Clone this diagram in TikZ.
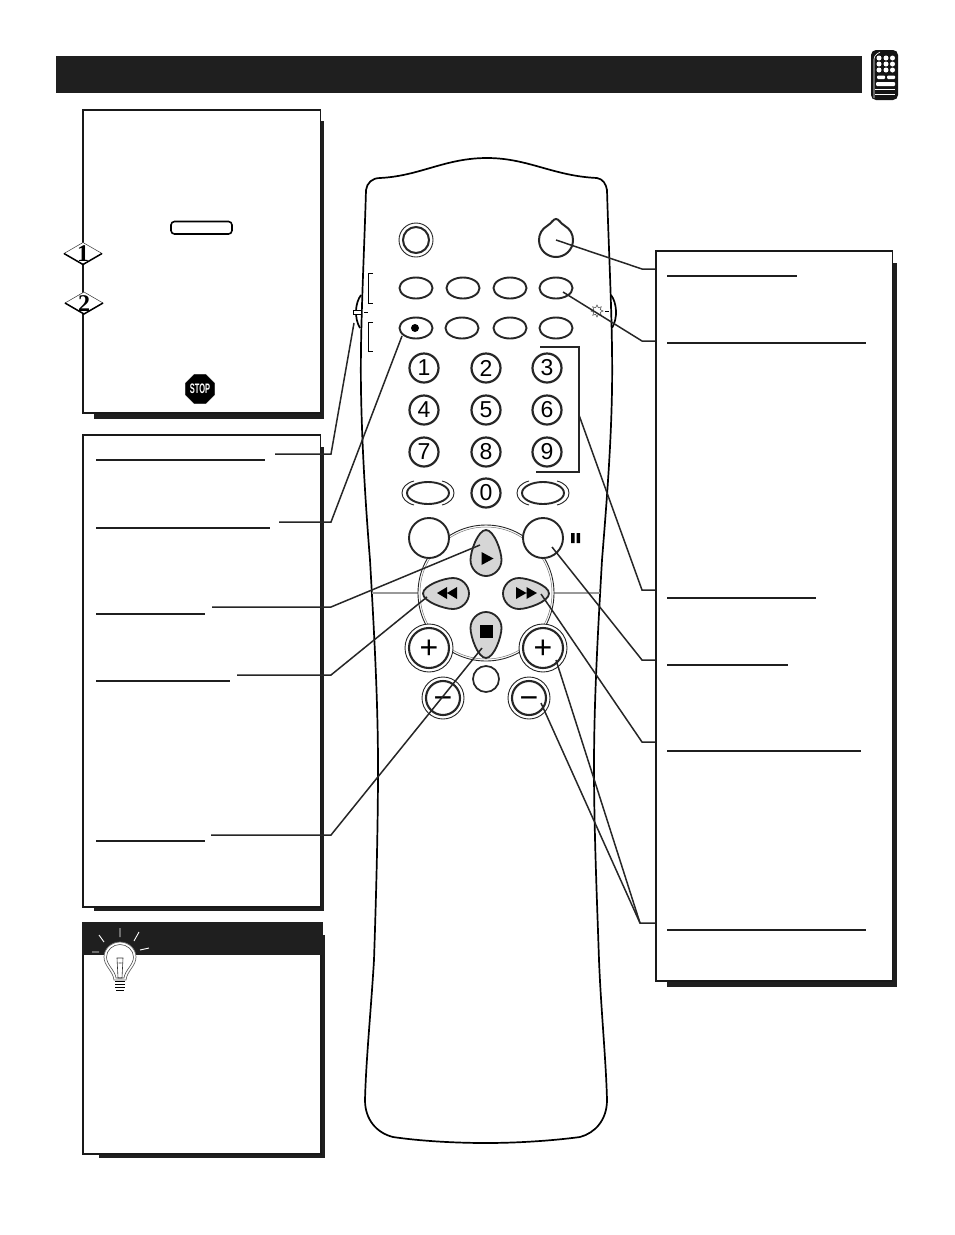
\documentclass[tikz,border=0pt]{standalone}
\usepackage{fontspec}
\setmainfont{Liberation Sans}
\newfontfamily\stepfont{Liberation Serif}
\usetikzlibrary{shapes.geometric}

\begin{document}
\begin{tikzpicture}[
		x=1pt,y=-1pt,
		every node/.style={inner sep=0pt,outer sep=0pt},
		infobox/.style={draw=black!90,line width=1.6pt,fill=white},
		boxshadow/.style={fill=black!88},
		underline/.style={line width=1.7pt,black!88},
		callout/.style={line width=1.5pt,black!85},
		body/.style={line width=1.7pt},
		thinring/.style={circle,draw=black!85,line width=.9pt,fill=white},
		oval/.style={ellipse,draw=black!85,line width=1.9pt,fill=white,minimum width=33pt,minimum height=21pt},
		numkey/.style={circle,draw=black!85,line width=2.2pt,fill=white,minimum size=29pt,font=\fontsize{23}{23}\selectfont},
		roundkey/.style={circle,draw=black!85,line width=1.9pt,fill=white,minimum size=40pt},
		volkey/.style={circle,draw=black!85,line width=2.1pt,fill=white,minimum size=40pt,font=\fontsize{32}{32}\selectfont},
		stepdiamond/.style={diamond,draw=black!80,line width=.5pt,fill=white,minimum width=38pt,minimum height=22pt,font=\stepfont\bfseries\fontsize{24}{24}\selectfont},
		stepedge/.style={line width=1.5pt},
		tear/.pic={
			\draw[line width=1.8pt,draw=black!85,fill=black!16] (0,-30) .. controls (8,-30) and (15.5,-9) .. (15.5,0)
				.. controls (15.5,9) and (8,16) .. (0,16) .. controls (-8,16) and (-15.5,9) .. (-15.5,0)
				.. controls (-15.5,-9) and (-8,-30) .. (0,-30) -- cycle;
		}
		]
		\useasboundingbox (0,0) rectangle (954,1235);
		\fill[white] (0,0) rectangle (954,1235);

		% title bar and small remote
		\fill[black!88] (56,56) rectangle (862,93);
		\fill[black!92,rounded corners=5pt] (871,50) rectangle (898,100);
		\draw[white,line width=.6pt,rounded corners=3pt] (874,98) -- (874,56) -- (880,52);
		\fill[white] (879,58) circle (2.5) (886,58) circle (2.5) (892.5,58) circle (2.5)
			(879,64) circle (2.5) (886,64) circle (2.5) (892.5,64) circle (2.5)
			(879,70) circle (2.5) (886,70) circle (2.5) (892.5,70) circle (2.5);
		\fill[white,rounded corners=1pt] (877,75.5) rectangle (885,79) (887,75.5) rectangle (895,79) (876,82) rectangle (895,86);
		\draw[white,line width=.9pt] (875,89) -- (895,89) (875,94) -- (895,94);

		% remote outline
		\draw[body,fill=white] (366,190) .. controls (367,183) and (372,178) .. (380,178)
			.. controls (420,176) and (445,158) .. (487,158)
			.. controls (528,158) and (553,176) .. (597,178)
			.. controls (603,179) and (606,184) .. (607,190)
			.. controls (609,260) and (613,330) .. (612,390)
			.. controls (611,450) and (606,510) .. (602,560)
			.. controls (598,630) and (594,700) .. (594,767)
			.. controls (594,830) and (597,900) .. (599,960)
			.. controls (601,1010) and (606,1060) .. (607,1100)
			.. controls (607,1120) and (595,1133) .. (580,1137)
			.. controls (550,1141) and (515,1143) .. (486,1143)
			.. controls (455,1143) and (420,1141) .. (393,1137)
			.. controls (377,1133) and (365,1120) .. (365,1100)
			.. controls (366,1060) and (371,1010) .. (374,960)
			.. controls (376,900) and (378,830) .. (378,767)
			.. controls (378,700) and (374,630) .. (370,560)
			.. controls (366,510) and (362,450) .. (361,390)
			.. controls (360,330) and (364,260) .. (366,190) -- cycle;
		\draw[body] (361,295) .. controls (355,303) and (354,318) .. (360,328);
		\draw[body] (611,295) .. controls (617,303) and (618,318) .. (612,328);
		\draw[line width=1pt,fill=white] (353,310.5) rectangle (361,314);
		\draw[line width=.8pt] (364,312) -- (368,312);
		\draw[line width=1pt] (373,273) -- (368,273) -- (368,303) -- (373,303);
		\draw[line width=1pt] (373,322) -- (368,322) -- (368,351) -- (373,351);
		\node (sunmark) [star,star points=8,star point ratio=1.7,draw=black!70,line width=.5pt,minimum size=12pt] at (597,311) {};
		\draw[line width=.7pt] (605,311) -- (609,311);
		\draw[line width=1.4pt,black!85] (540,347) -- (579,347) -- (579,472) -- (536,472);

		% ring round the arrows
		\draw[black!40,line width=1.4pt] (372,593) -- (418,593) (554,593) -- (600,593);
		\node (dialrim) [thinring,minimum size=136pt] at (486,593) {};
		\node (dial) [thinring,draw=black!55,line width=.5pt,minimum size=132pt] at (486,593) {};

		% top keys
		\node (powerrim) [thinring,minimum size=34pt] at (416,240) {};
		\node (power) [circle,draw=black!85,line width=2pt,fill=white,minimum size=26pt] at (416,240) {};
		\draw[body,black!85,fill=white,line width=2pt] (556,219) .. controls (559,219) and (560,223) .. (565,226)
			.. controls (570,229) and (573,234) .. (573,240)
			.. controls (573,250) and (565,257) .. (556,257) .. controls (547,257) and (539,250) .. (539,240)
			.. controls (539,234) and (542,229) .. (547,226) .. controls (552,223) and (553,219) .. (556,219) -- cycle;
		\coordinate (menukey) at (556,240);
		\node (keya) [oval] at (416,288) {};
		\node (keyb) [oval] at (463,288) {};
		\node (keyc) [oval] at (510,288) {};
		\node (keyd) [oval] at (556,288) {};
		\node (record) [oval] at (416,328) {};
		\node (keyf) [oval] at (462,328) {};
		\node (keyg) [oval] at (510,328) {};
		\node (keyh) [oval] at (556,328) {};
		\node (recdot) [circle,fill=black,minimum size=8pt] at (415,328) {};

		% number keys
		\node (one) [numkey] at (424,368) {1};
		\node (two) [numkey] at (486,368) {2};
		\node (three) [numkey] at (547,368) {3};
		\node (four) [numkey] at (424,410) {4};
		\node (five) [numkey] at (486,410) {5};
		\node (six) [numkey] at (547,410) {6};
		\node (seven) [numkey] at (424,452) {7};
		\node (eight) [numkey] at (486,452) {8};
		\node (nine) [numkey] at (547,452) {9};
		\node (zero) [numkey] at (486,493) {0};
		\coordinate (numedge) at (579,415);

		% ovals beside the zero
		\node (ovalleft) [oval,minimum width=42pt,minimum height=22pt] at (428,493) {};
		\node (ovalright) [oval,minimum width=42pt,minimum height=22pt] at (543,493) {};
		\draw[black!85,line width=.9pt] (414,481) .. controls (398,485) and (398,501) .. (414,505)
			(442,481) .. controls (458,485) and (458,501) .. (442,505)
			(529,481) .. controls (513,485) and (513,501) .. (529,505)
			(557,481) .. controls (573,485) and (573,501) .. (557,505);

		% keys on the ring
		\node (keyleft) [roundkey] at (429,538) {};
		\node (pause) [roundkey] at (543,538) {};
		\fill[black] (571,533) rectangle (574.5,543) (576.5,533) rectangle (580,543);
		\pic[rotate=0] at (486,560) {tear};
		\pic[rotate=180] at (486,628) {tear};
		\pic[rotate=90] at (453,593.5) {tear};
		\pic[rotate=-90] at (519,593.5) {tear};
		\fill[black] (481.5,552) -- (481.5,565) -- (493.5,558.5) -- cycle;
		\fill[black] (480,625) rectangle (493,638);
		\fill[black] (447,587) -- (447,599) -- (437,593) -- cycle (457,587) -- (457,599) -- (447,593) -- cycle;
		\fill[black] (516,587) -- (516,599) -- (526.5,593) -- cycle (526.5,587) -- (526.5,599) -- (537,593) -- cycle;
		\coordinate (playkey) at (480,545);
		\coordinate (rewind) at (427,597);
		\coordinate (stopkey) at (482,648);
		\coordinate (forward) at (541,594);

		% volume keys
		\node (plusleftrim) [thinring,minimum size=48pt] at (429,648) {};
		\node (plusleft) [volkey] at (429,648) {\raisebox{-10.6pt}[0pt][0pt]{+}};
		\node (plusrightrim) [thinring,minimum size=48pt] at (543,648) {};
		\node (plusright) [volkey] at (543,648) {\raisebox{-10.6pt}[0pt][0pt]{+}};
		\node (minusleftrim) [thinring,minimum size=42pt] at (443,698) {};
		\node (minusleft) [volkey,minimum size=34pt] at (443,698) {\raisebox{-10.6pt}[0pt][0pt]{−}};
		\node (minusrightrim) [thinring,minimum size=42pt] at (529,698) {};
		\node (minusright) [volkey,minimum size=34pt] at (529,698) {\raisebox{-10.6pt}[0pt][0pt]{−}};
		\node (mute) [circle,draw=black!85,line width=1.7pt,fill=white,minimum size=26pt] at (486,679) {};
		\coordinate (plusend) at (556,660);
		\coordinate (minusend) at (541,703);

		% left boxes
		\fill[boxshadow] (94,121) rectangle (324,419);
		\draw[infobox] (83,110) rectangle (320.5,413);
		\fill[boxshadow] (94,447) rectangle (324,911);
		\draw[infobox] (83,435) rectangle (320.5,907);
		\fill[boxshadow] (99,935) rectangle (325,1158);
		\draw[infobox] (83,935) rectangle (321,1154);
		\fill[black!88] (82,922) rectangle (323,955);

		\draw[line width=1.6pt,rounded corners=3.5pt,fill=white] (171,221.5) rectangle (232,234);
		\node (stepone) [stepdiamond] at (83,253.5) {\raisebox{-8pt}[0pt][0pt]{\makebox[0pt]{1}}};
		\node (steptwo) [stepdiamond] at (84,303) {\raisebox{-8pt}[0pt][0pt]{\makebox[0pt]{2}}};
		\draw[stepedge] (stepone.west) -- (stepone.south) -- (stepone.east);
		\draw[stepedge] (steptwo.west) -- (steptwo.south) -- (steptwo.east);
		\node (stopsign) [regular polygon,regular polygon sides=8,draw=black,line width=.6pt,fill=black,minimum size=30pt,text=white,font=\bfseries\fontsize{11}{11}\selectfont] at (200,389) {\scalebox{.68}[1.25]{STOP}};

		% light bulb
		\draw[white,line width=.9pt] (120,928) -- (120,937) (99,935) -- (104,942) (139,932) -- (134,941)
			(92,952) -- (99,952) (140,950) -- (149,948);
		\draw[black!60,line width=.7pt,fill=white] (120,942) .. controls (129,942) and (136,949) .. (136,957)
			.. controls (136,966) and (127,971) .. (126,980) -- (114,980)
			.. controls (113,971) and (104,966) .. (104,957) .. controls (104,949) and (111,942) .. (120,942) -- cycle;
		\draw[black!70,line width=.6pt] (120,944.5) .. controls (127,944.5) and (133.5,950) .. (133.5,957)
			.. controls (133.5,965) and (125,970) .. (124,978) -- (116,978)
			.. controls (115,970) and (106.5,965) .. (106.5,957) .. controls (106.5,950) and (113,944.5) .. (120,944.5) -- cycle;
		\draw[black!80,line width=.6pt] (117,958) -- (123,958) -- (122,978) -- (118,978) -- cycle (118.5,963) -- (121.5,963);
		\draw[black,line width=1.4pt] (115,981.5) -- (125,981.5) (115,984.5) -- (125,984.5) (115,987.5) -- (125,987.5) (116,990.5) -- (124,990.5);

		% right box
		\fill[boxshadow] (667,263) rectangle (897,987);
		\draw[infobox] (656,251) rectangle (892.5,981);

		% underlines
		\draw[underline] (96,460) -- (265,460);
		\draw[underline] (96,528) -- (270,528);
		\draw[underline] (96,614) -- (205,614);
		\draw[underline] (96,681) -- (230,681);
		\draw[underline] (96,841) -- (205,841);
		\draw[underline] (667,276) -- (797,276);
		\draw[underline] (667,343) -- (866,343);
		\draw[underline] (667,598) -- (816,598);
		\draw[underline] (667,665) -- (788,665);
		\draw[underline] (667,751) -- (861,751);
		\draw[underline] (667,930) -- (866,930);

		% connectors
		\coordinate (sidelabel) at (275,454);
		\coordinate (sidebend) at (331,454);
		\coordinate (sideend) at (354,323);
		\coordinate (reclabel) at (279,522);
		\coordinate (recbend) at (331,522);
		\coordinate (recend) at (402,336);
		\coordinate (playlabel) at (212,607);
		\coordinate (playbend) at (331,607);
		\coordinate (rewlabel) at (237,675);
		\coordinate (rewbend) at (331,675);
		\coordinate (stoplabel) at (211,835);
		\coordinate (stopbend) at (331,835);
		\coordinate (menubox) at (655,269);
		\coordinate (menubend) at (642,269);
		\coordinate (keydbox) at (655,341);
		\coordinate (keydbend) at (642,341);
		\coordinate (keydend) at (563,292);
		\coordinate (numbox) at (655,590);
		\coordinate (numbend) at (642,590);
		\coordinate (pausebox) at (655,660);
		\coordinate (pausebend) at (642,660);
		\coordinate (pauseend) at (552,547);
		\coordinate (forbox) at (655,742);
		\coordinate (forbend) at (642,742);
		\coordinate (volbox) at (655,923);
		\coordinate (volbend) at (640,923);
		\draw[callout] (sidelabel) -- (sidebend) -- (sideend);
		\draw[callout] (reclabel) -- (recbend) -- (recend);
		\draw[callout] (playlabel) -- (playbend) -- (playkey);
		\draw[callout] (rewlabel) -- (rewbend) -- (rewind);
		\draw[callout] (stoplabel) -- (stopbend) -- (stopkey);
		\draw[callout] (menubox) -- (menubend) -- (menukey);
		\draw[callout] (keydbox) -- (keydbend) -- (keydend);
		\draw[callout] (numbox) -- (numbend) -- (numedge);
		\draw[callout] (pausebox) -- (pausebend) -- (pauseend);
		\draw[callout] (forbox) -- (forbend) -- (forward);
		\draw[callout] (volbox) -- (volbend) -- (plusend);
		\draw[callout] (volbend) -- (minusend);
\end{tikzpicture}
\end{document}
